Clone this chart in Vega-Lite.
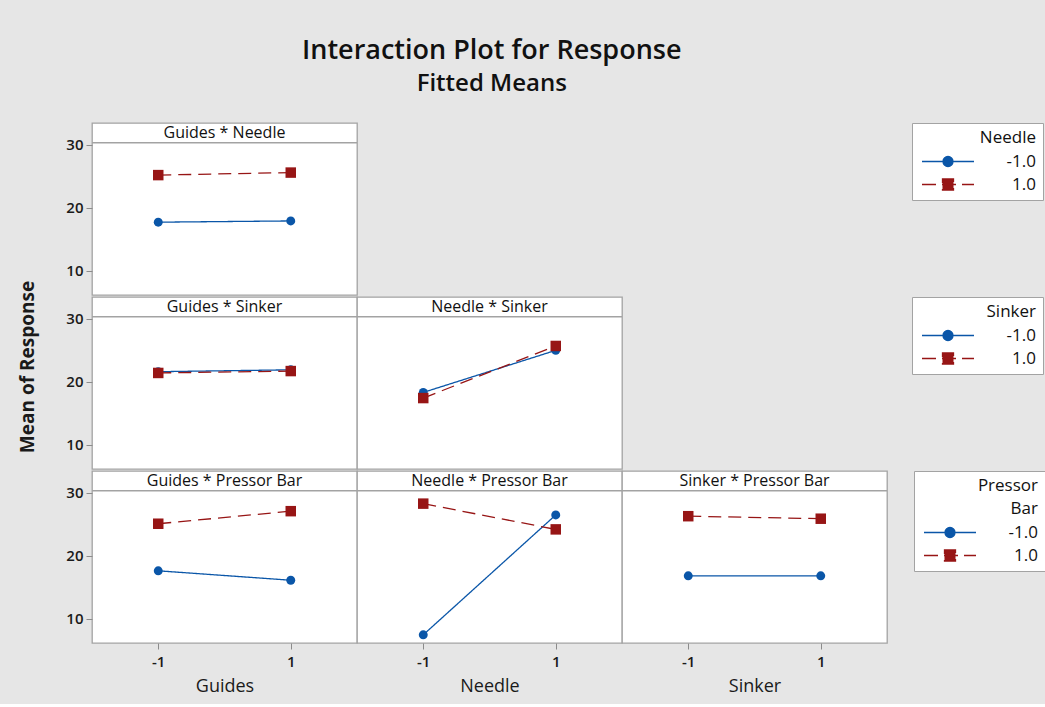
{
  "$schema": "https://vega.github.io/schema/vega-lite/v6.json",
  "padding": {"left": 18, "top": 37, "right": 0, "bottom": 8},
  "title": {
    "text": "Interaction Plot for Response",
    "subtitle": "Fitted Means",
    "anchor": "middle",
    "dx": -40,
    "font": "Open Sans",
    "fontSize": 27,
    "fontWeight": 600,
    "color": "#111111",
    "subtitleFont": "Open Sans",
    "subtitleFontSize": 24,
    "subtitleFontWeight": 600,
    "subtitleColor": "#111111",
    "subtitlePadding": 7,
    "offset": 25
  },
  "datasets": {
    "means": [
      {"panel": "Guides * Needle", "x": -1, "level": "-1.0", "mean": 17.7},
      {"panel": "Guides * Needle", "x": 1, "level": "-1.0", "mean": 17.9},
      {"panel": "Guides * Needle", "x": -1, "level": "1.0", "mean": 25.2},
      {"panel": "Guides * Needle", "x": 1, "level": "1.0", "mean": 25.6},
      {"panel": "Guides * Sinker", "x": -1, "level": "-1.0", "mean": 21.6},
      {"panel": "Guides * Sinker", "x": 1, "level": "-1.0", "mean": 21.9},
      {"panel": "Guides * Sinker", "x": -1, "level": "1.0", "mean": 21.4},
      {"panel": "Guides * Sinker", "x": 1, "level": "1.0", "mean": 21.7},
      {"panel": "Needle * Sinker", "x": -1, "level": "-1.0", "mean": 18.3},
      {"panel": "Needle * Sinker", "x": 1, "level": "-1.0", "mean": 25.0},
      {"panel": "Needle * Sinker", "x": -1, "level": "1.0", "mean": 17.4},
      {"panel": "Needle * Sinker", "x": 1, "level": "1.0", "mean": 25.7},
      {"panel": "Guides * Pressor Bar", "x": -1, "level": "-1.0", "mean": 17.6},
      {"panel": "Guides * Pressor Bar", "x": 1, "level": "-1.0", "mean": 16.1},
      {"panel": "Guides * Pressor Bar", "x": -1, "level": "1.0", "mean": 25.1},
      {"panel": "Guides * Pressor Bar", "x": 1, "level": "1.0", "mean": 27.1},
      {"panel": "Needle * Pressor Bar", "x": -1, "level": "-1.0", "mean": 7.4},
      {"panel": "Needle * Pressor Bar", "x": 1, "level": "-1.0", "mean": 26.5},
      {"panel": "Needle * Pressor Bar", "x": -1, "level": "1.0", "mean": 28.3},
      {"panel": "Needle * Pressor Bar", "x": 1, "level": "1.0", "mean": 24.2},
      {"panel": "Sinker * Pressor Bar", "x": -1, "level": "-1.0", "mean": 16.8},
      {"panel": "Sinker * Pressor Bar", "x": 1, "level": "-1.0", "mean": 16.8},
      {"panel": "Sinker * Pressor Bar", "x": -1, "level": "1.0", "mean": 26.3},
      {"panel": "Sinker * Pressor Bar", "x": 1, "level": "1.0", "mean": 25.9}
    ]
  },
  "spacing": 27,
  "hconcat": [
    {
      "width": 20, "height": 516,
      "data": {"values": [{"label": "Mean of Response"}]},
      "mark": {"type": "text", "angle": 270, "dx": 14, "font": "Open Sans", "fontSize": 19, "fontWeight": "bold", "color": "#1a1a1a"},
      "encoding": {"text": {"field": "label"}},
      "view": {"fill": null, "stroke": null}
    },
    {
      "spacing": 0,
      "resolve": {"scale": {"color": "independent"}},
      "vconcat": [
        {
          "spacing": 0,
          "bounds": "flush",
          "hconcat": [
            {
              "width": 265, "height": 172,
              "data": {"name": "means"},
              "transform": [{"filter": "datum.panel === 'Guides * Needle'"}],
              "layer": [
                {
                  "transform": [{"aggregate": [{"op": "count", "as": "n"}], "groupby": ["panel"]}],
                  "mark": {"type": "rule", "stroke": "#a3a3a3", "strokeWidth": 1.3},
                  "encoding": {"y": {"datum": 30.35, "type": "quantitative", "scale": {"domain": [6.1, 33.5]}, "axis": {"values": [10, 20, 30], "title": null}}}
                },
                {
                  "transform": [{"aggregate": [{"op": "count", "as": "n"}], "groupby": ["panel"]}],
                  "mark": {"type": "text", "fontSize": 16, "color": "#111111", "baseline": "middle"},
                  "encoding": {"y": {"datum": 31.95, "type": "quantitative", "scale": {"domain": [6.1, 33.5]}, "axis": {"values": [10, 20, 30], "title": null}}, "text": {"field": "panel"}}
                },
                {
                  "mark": {"type": "line", "strokeWidth": 1.3},
                  "encoding": {
                    "x": {"field": "x", "type": "quantitative", "scale": {"domain": [-2, 2]}, "axis": null},
                    "y": {"field": "mean", "type": "quantitative", "scale": {"domain": [6.1, 33.5]}, "axis": {"values": [10, 20, 30], "title": null}},
                    "color": {"field": "level", "type": "nominal", "scale": {"domain": ["-1.0", "1.0"], "range": ["#0a56a8", "#971515"]},
                      "legend": {"title": "Needle", "encode": {"symbols": {"update": {
                        "shape": {"signal": "datum.value === '-1.0' ? 'M-1.1,0H9.3M3.1,0A1,1 0 1,0 5.1,0A1,1 0 1,0 3.1,0Z' : 'M-1.1,0H9.3M3,-1.1H5.2V1.1H3Z'"},
                        "fill": {"signal": "datum.value === '-1.0' ? '#0a56a8' : '#971515'"},
                        "stroke": {"signal": "datum.value === '-1.0' ? '#0a56a8' : '#971515'"},
                        "strokeDash": {"signal": "datum.value === '-1.0' ? [] : [14, 6]"},
                        "strokeWidth": {"value": 1.3},
                        "size": {"value": 100},
                        "opacity": {"value": 1}
                      }}}}},
                    "strokeDash": {"condition": {"test": "datum.level === '1.0'", "value": [13, 7]}, "value": [1, 0]}
                  }
                },
                {
                  "mark": {"type": "point", "filled": true, "opacity": 1},
                  "encoding": {
                    "x": {"field": "x", "type": "quantitative", "scale": {"domain": [-2, 2]}, "axis": null},
                    "y": {"field": "mean", "type": "quantitative", "scale": {"domain": [6.1, 33.5]}, "axis": {"values": [10, 20, 30], "title": null}},
                    "color": {"field": "level", "type": "nominal", "scale": {"domain": ["-1.0", "1.0"], "range": ["#0a56a8", "#971515"]}, "legend": null},
                    "shape": {"condition": {"test": "datum.level === '1.0'", "value": "square"}, "value": "circle"},
                    "size": {"condition": {"test": "datum.level === '1.0'", "value": 110}, "value": 80}
                  }
                }
              ]
            },
            {
              "width": 530, "height": 172,
              "data": {"values": []},
              "mark": "text",
              "view": {"fill": null, "stroke": null}
            }
          ]
        },
        {
          "spacing": 0,
          "bounds": "flush",
          "hconcat": [
            {
              "width": 265, "height": 172,
              "data": {"name": "means"},
              "transform": [{"filter": "datum.panel === 'Guides * Sinker'"}],
              "layer": [
                {
                  "transform": [{"aggregate": [{"op": "count", "as": "n"}], "groupby": ["panel"]}],
                  "mark": {"type": "rule", "stroke": "#a3a3a3", "strokeWidth": 1.3},
                  "encoding": {"y": {"datum": 30.35, "type": "quantitative", "scale": {"domain": [6.1, 33.5]}, "axis": {"values": [10, 20, 30], "title": null}}}
                },
                {
                  "transform": [{"aggregate": [{"op": "count", "as": "n"}], "groupby": ["panel"]}],
                  "mark": {"type": "text", "fontSize": 16, "color": "#111111", "baseline": "middle"},
                  "encoding": {"y": {"datum": 31.95, "type": "quantitative", "scale": {"domain": [6.1, 33.5]}, "axis": {"values": [10, 20, 30], "title": null}}, "text": {"field": "panel"}}
                },
                {
                  "mark": {"type": "line", "strokeWidth": 1.3},
                  "encoding": {
                    "x": {"field": "x", "type": "quantitative", "scale": {"domain": [-2, 2]}, "axis": null},
                    "y": {"field": "mean", "type": "quantitative", "scale": {"domain": [6.1, 33.5]}, "axis": {"values": [10, 20, 30], "title": null}},
                    "color": {"field": "level", "type": "nominal", "scale": {"domain": ["-1.0", "1.0"], "range": ["#0a56a8", "#971515"]},
                      "legend": {"title": "Sinker", "encode": {"symbols": {"update": {
                        "shape": {"signal": "datum.value === '-1.0' ? 'M-1.1,0H9.3M3.1,0A1,1 0 1,0 5.1,0A1,1 0 1,0 3.1,0Z' : 'M-1.1,0H9.3M3,-1.1H5.2V1.1H3Z'"},
                        "fill": {"signal": "datum.value === '-1.0' ? '#0a56a8' : '#971515'"},
                        "stroke": {"signal": "datum.value === '-1.0' ? '#0a56a8' : '#971515'"},
                        "strokeDash": {"signal": "datum.value === '-1.0' ? [] : [14, 6]"},
                        "strokeWidth": {"value": 1.3},
                        "size": {"value": 100},
                        "opacity": {"value": 1}
                      }}}}},
                    "strokeDash": {"condition": {"test": "datum.level === '1.0'", "value": [13, 7]}, "value": [1, 0]}
                  }
                },
                {
                  "mark": {"type": "point", "filled": true, "opacity": 1},
                  "encoding": {
                    "x": {"field": "x", "type": "quantitative", "scale": {"domain": [-2, 2]}, "axis": null},
                    "y": {"field": "mean", "type": "quantitative", "scale": {"domain": [6.1, 33.5]}, "axis": {"values": [10, 20, 30], "title": null}},
                    "color": {"field": "level", "type": "nominal", "scale": {"domain": ["-1.0", "1.0"], "range": ["#0a56a8", "#971515"]}, "legend": null},
                    "shape": {"condition": {"test": "datum.level === '1.0'", "value": "square"}, "value": "circle"},
                    "size": {"condition": {"test": "datum.level === '1.0'", "value": 110}, "value": 80}
                  }
                }
              ]
            },
            {
              "width": 265, "height": 172,
              "data": {"name": "means"},
              "transform": [{"filter": "datum.panel === 'Needle * Sinker'"}],
              "layer": [
                {
                  "transform": [{"aggregate": [{"op": "count", "as": "n"}], "groupby": ["panel"]}],
                  "mark": {"type": "rule", "stroke": "#a3a3a3", "strokeWidth": 1.3},
                  "encoding": {"y": {"datum": 30.35, "type": "quantitative", "scale": {"domain": [6.1, 33.5]}, "axis": null}}
                },
                {
                  "transform": [{"aggregate": [{"op": "count", "as": "n"}], "groupby": ["panel"]}],
                  "mark": {"type": "text", "fontSize": 16, "color": "#111111", "baseline": "middle"},
                  "encoding": {"y": {"datum": 31.95, "type": "quantitative", "scale": {"domain": [6.1, 33.5]}, "axis": null}, "text": {"field": "panel"}}
                },
                {
                  "mark": {"type": "line", "strokeWidth": 1.3},
                  "encoding": {
                    "x": {"field": "x", "type": "quantitative", "scale": {"domain": [-2, 2]}, "axis": null},
                    "y": {"field": "mean", "type": "quantitative", "scale": {"domain": [6.1, 33.5]}, "axis": null},
                    "color": {"field": "level", "type": "nominal", "scale": {"domain": ["-1.0", "1.0"], "range": ["#0a56a8", "#971515"]}, "legend": null},
                    "strokeDash": {"condition": {"test": "datum.level === '1.0'", "value": [13, 7]}, "value": [1, 0]}
                  }
                },
                {
                  "mark": {"type": "point", "filled": true, "opacity": 1},
                  "encoding": {
                    "x": {"field": "x", "type": "quantitative", "scale": {"domain": [-2, 2]}, "axis": null},
                    "y": {"field": "mean", "type": "quantitative", "scale": {"domain": [6.1, 33.5]}, "axis": null},
                    "color": {"field": "level", "type": "nominal", "scale": {"domain": ["-1.0", "1.0"], "range": ["#0a56a8", "#971515"]}, "legend": null},
                    "shape": {"condition": {"test": "datum.level === '1.0'", "value": "square"}, "value": "circle"},
                    "size": {"condition": {"test": "datum.level === '1.0'", "value": 110}, "value": 80}
                  }
                }
              ]
            },
            {
              "width": 265, "height": 172,
              "data": {"values": []},
              "mark": "text",
              "view": {"fill": null, "stroke": null}
            }
          ]
        },
        {
          "spacing": 0,
          "bounds": "flush",
          "hconcat": [
            {
              "width": 265, "height": 172,
              "data": {"name": "means"},
              "transform": [{"filter": "datum.panel === 'Guides * Pressor Bar'"}],
              "layer": [
                {
                  "transform": [{"aggregate": [{"op": "count", "as": "n"}], "groupby": ["panel"]}],
                  "mark": {"type": "rule", "stroke": "#a3a3a3", "strokeWidth": 1.3},
                  "encoding": {"y": {"datum": 30.35, "type": "quantitative", "scale": {"domain": [6.1, 33.5]}, "axis": {"values": [10, 20, 30], "title": null}}}
                },
                {
                  "transform": [{"aggregate": [{"op": "count", "as": "n"}], "groupby": ["panel"]}],
                  "mark": {"type": "text", "fontSize": 16, "color": "#111111", "baseline": "middle"},
                  "encoding": {"y": {"datum": 31.95, "type": "quantitative", "scale": {"domain": [6.1, 33.5]}, "axis": {"values": [10, 20, 30], "title": null}}, "text": {"field": "panel"}}
                },
                {
                  "mark": {"type": "line", "strokeWidth": 1.3},
                  "encoding": {
                    "x": {"field": "x", "type": "quantitative", "scale": {"domain": [-2, 2]}, "axis": {"values": [-1, 1], "title": "Guides", "labelExpr": "'' + datum.value"}},
                    "y": {"field": "mean", "type": "quantitative", "scale": {"domain": [6.1, 33.5]}, "axis": {"values": [10, 20, 30], "title": null}},
                    "color": {"field": "level", "type": "nominal", "scale": {"domain": ["-1.0", "1.0"], "range": ["#0a56a8", "#971515"]},
                      "legend": {"title": ["Pressor", "Bar"], "encode": {"symbols": {"update": {
                        "shape": {"signal": "datum.value === '-1.0' ? 'M-1.1,0H9.3M3.1,0A1,1 0 1,0 5.1,0A1,1 0 1,0 3.1,0Z' : 'M-1.1,0H9.3M3,-1.1H5.2V1.1H3Z'"},
                        "fill": {"signal": "datum.value === '-1.0' ? '#0a56a8' : '#971515'"},
                        "stroke": {"signal": "datum.value === '-1.0' ? '#0a56a8' : '#971515'"},
                        "strokeDash": {"signal": "datum.value === '-1.0' ? [] : [14, 6]"},
                        "strokeWidth": {"value": 1.3},
                        "size": {"value": 100},
                        "opacity": {"value": 1}
                      }}}}},
                    "strokeDash": {"condition": {"test": "datum.level === '1.0'", "value": [13, 7]}, "value": [1, 0]}
                  }
                },
                {
                  "mark": {"type": "point", "filled": true, "opacity": 1},
                  "encoding": {
                    "x": {"field": "x", "type": "quantitative", "scale": {"domain": [-2, 2]}, "axis": {"values": [-1, 1], "title": "Guides", "labelExpr": "'' + datum.value"}},
                    "y": {"field": "mean", "type": "quantitative", "scale": {"domain": [6.1, 33.5]}, "axis": {"values": [10, 20, 30], "title": null}},
                    "color": {"field": "level", "type": "nominal", "scale": {"domain": ["-1.0", "1.0"], "range": ["#0a56a8", "#971515"]}, "legend": null},
                    "shape": {"condition": {"test": "datum.level === '1.0'", "value": "square"}, "value": "circle"},
                    "size": {"condition": {"test": "datum.level === '1.0'", "value": 110}, "value": 80}
                  }
                }
              ]
            },
            {
              "width": 265, "height": 172,
              "data": {"name": "means"},
              "transform": [{"filter": "datum.panel === 'Needle * Pressor Bar'"}],
              "layer": [
                {
                  "transform": [{"aggregate": [{"op": "count", "as": "n"}], "groupby": ["panel"]}],
                  "mark": {"type": "rule", "stroke": "#a3a3a3", "strokeWidth": 1.3},
                  "encoding": {"y": {"datum": 30.35, "type": "quantitative", "scale": {"domain": [6.1, 33.5]}, "axis": null}}
                },
                {
                  "transform": [{"aggregate": [{"op": "count", "as": "n"}], "groupby": ["panel"]}],
                  "mark": {"type": "text", "fontSize": 16, "color": "#111111", "baseline": "middle"},
                  "encoding": {"y": {"datum": 31.95, "type": "quantitative", "scale": {"domain": [6.1, 33.5]}, "axis": null}, "text": {"field": "panel"}}
                },
                {
                  "mark": {"type": "line", "strokeWidth": 1.3},
                  "encoding": {
                    "x": {"field": "x", "type": "quantitative", "scale": {"domain": [-2, 2]}, "axis": {"values": [-1, 1], "title": "Needle", "labelExpr": "'' + datum.value"}},
                    "y": {"field": "mean", "type": "quantitative", "scale": {"domain": [6.1, 33.5]}, "axis": null},
                    "color": {"field": "level", "type": "nominal", "scale": {"domain": ["-1.0", "1.0"], "range": ["#0a56a8", "#971515"]}, "legend": null},
                    "strokeDash": {"condition": {"test": "datum.level === '1.0'", "value": [13, 7]}, "value": [1, 0]}
                  }
                },
                {
                  "mark": {"type": "point", "filled": true, "opacity": 1},
                  "encoding": {
                    "x": {"field": "x", "type": "quantitative", "scale": {"domain": [-2, 2]}, "axis": {"values": [-1, 1], "title": "Needle", "labelExpr": "'' + datum.value"}},
                    "y": {"field": "mean", "type": "quantitative", "scale": {"domain": [6.1, 33.5]}, "axis": null},
                    "color": {"field": "level", "type": "nominal", "scale": {"domain": ["-1.0", "1.0"], "range": ["#0a56a8", "#971515"]}, "legend": null},
                    "shape": {"condition": {"test": "datum.level === '1.0'", "value": "square"}, "value": "circle"},
                    "size": {"condition": {"test": "datum.level === '1.0'", "value": 110}, "value": 80}
                  }
                }
              ]
            },
            {
              "width": 265, "height": 172,
              "data": {"name": "means"},
              "transform": [{"filter": "datum.panel === 'Sinker * Pressor Bar'"}],
              "layer": [
                {
                  "transform": [{"aggregate": [{"op": "count", "as": "n"}], "groupby": ["panel"]}],
                  "mark": {"type": "rule", "stroke": "#a3a3a3", "strokeWidth": 1.3},
                  "encoding": {"y": {"datum": 30.35, "type": "quantitative", "scale": {"domain": [6.1, 33.5]}, "axis": null}}
                },
                {
                  "transform": [{"aggregate": [{"op": "count", "as": "n"}], "groupby": ["panel"]}],
                  "mark": {"type": "text", "fontSize": 16, "color": "#111111", "baseline": "middle"},
                  "encoding": {"y": {"datum": 31.95, "type": "quantitative", "scale": {"domain": [6.1, 33.5]}, "axis": null}, "text": {"field": "panel"}}
                },
                {
                  "mark": {"type": "line", "strokeWidth": 1.3},
                  "encoding": {
                    "x": {"field": "x", "type": "quantitative", "scale": {"domain": [-2, 2]}, "axis": {"values": [-1, 1], "title": "Sinker", "labelExpr": "'' + datum.value"}},
                    "y": {"field": "mean", "type": "quantitative", "scale": {"domain": [6.1, 33.5]}, "axis": null},
                    "color": {"field": "level", "type": "nominal", "scale": {"domain": ["-1.0", "1.0"], "range": ["#0a56a8", "#971515"]}, "legend": null},
                    "strokeDash": {"condition": {"test": "datum.level === '1.0'", "value": [13, 7]}, "value": [1, 0]}
                  }
                },
                {
                  "mark": {"type": "point", "filled": true, "opacity": 1},
                  "encoding": {
                    "x": {"field": "x", "type": "quantitative", "scale": {"domain": [-2, 2]}, "axis": {"values": [-1, 1], "title": "Sinker", "labelExpr": "'' + datum.value"}},
                    "y": {"field": "mean", "type": "quantitative", "scale": {"domain": [6.1, 33.5]}, "axis": null},
                    "color": {"field": "level", "type": "nominal", "scale": {"domain": ["-1.0", "1.0"], "range": ["#0a56a8", "#971515"]}, "legend": null},
                    "shape": {"condition": {"test": "datum.level === '1.0'", "value": "square"}, "value": "circle"},
                    "size": {"condition": {"test": "datum.level === '1.0'", "value": 110}, "value": 80}
                  }
                }
              ]
            }
          ]
        }
      ]
    }
  ],
  "config": {
    "background": "#e6e6e6",
    "font": "Open Sans",
    "view": {"fill": "white", "stroke": "#a3a3a3", "strokeWidth": 1.3},
    "axis": {
      "grid": false,
      "domain": false,
      "tickColor": "#8c8c8c",
      "tickSize": 6,
      "labelFont": "Open Sans",
      "labelFontSize": 15,
      "labelFontWeight": 600,
      "labelColor": "#1a1a1a",
      "labelPadding": 3,
      "titleFont": "Open Sans",
      "titleColor": "#1a1a1a"
    },
    "axisX": {"titleFontSize": 18, "titleFontWeight": "normal", "titlePadding": 8, "labelPadding": 5},
    "legend": {
      "orient": "right",
      "offset": 25,
      "padding": 7,
      "fillColor": "white",
      "strokeColor": "#a3a3a3",
      "titleFont": "Open Sans",
      "titleFontSize": 17,
      "titleFontWeight": "normal",
      "titleColor": "#111111",
      "titleAnchor": "end",
      "titlePadding": 6,
      "titleLineHeight": 23,
      "labelFont": "Open Sans",
      "labelFontSize": 17,
      "labelColor": "#111111",
      "labelAlign": "right",
      "labelOffset": 100,
      "rowPadding": 5,
      "symbolSize": 100
    }
  }
}
